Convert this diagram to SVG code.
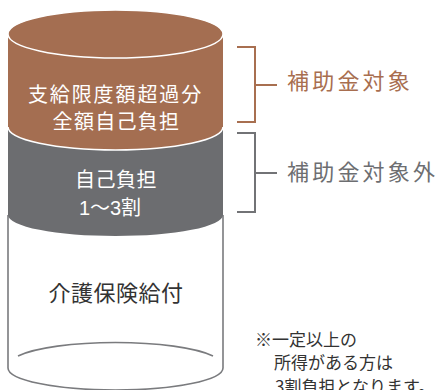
<svg xmlns="http://www.w3.org/2000/svg" width="439" height="390" viewBox="0 0 439 390">
<style>
text{font-family:"Noto Sans CJK JP","Noto Sans",sans-serif;}
.w{fill:#ffffff;font-size:20px;text-anchor:middle;}
.brown{fill:#a46e51;}
.gray{fill:#6c6d70;}
.line{fill:none;stroke:#7a7b7e;stroke-width:1.6;}
.bb{fill:none;stroke:#a86f50;stroke-width:2;}
.gb{fill:none;stroke:#727376;stroke-width:2;}
.note{fill:#333333;font-size:17px;}
</style>
<rect width="439" height="390" fill="#ffffff"/>
<g id="insurance">
  <path class="line" d="M8,215 L8,368 A107.5,22 0 0 0 223,368 L223,215"/>
  <path class="line" d="M18,356 A107,23 0 0 1 213,356"/>
  <text x="116" y="301" font-size="22" letter-spacing="0.5" text-anchor="middle" fill="#333333">介護保険給付</text>
</g>
<g id="copay">
  <path class="gray" d="M8,127 L8,215 A107.5,21 0 0 0 223,215 L223,127 Z"/>
  <text class="w" x="116" y="187" letter-spacing="0.5">自己負担</text>
  <text class="w" x="110" y="215" style="font-family:'Liberation Sans','Noto Sans CJK JP',sans-serif">1～3割</text>
</g>
<g id="excess">
  <path class="brown" d="M8,34 L8,127 A107.5,23 0 0 0 223,127 L223,34 Z"/>
  <path d="M8,127 A107.5,23 0 0 0 223,127" fill="none" stroke="#ffffff" stroke-width="1.6"/>
  <ellipse cx="115.5" cy="34" rx="107.5" ry="24" class="brown" stroke="#ffffff" stroke-width="1.5"/>
  <text class="w" x="115.5" y="102" letter-spacing="1.9">支給限度額超過分</text>
  <text class="w" x="116.5" y="129" letter-spacing="1.3">全額自己負担</text>
</g>
<g id="connectors">
  <path class="bb" d="M237,47 L255,47 L255,122 L237,122 M255,85 L277,85"/>
  <path class="gb" d="M237,133 L255,133 L255,212 L237,212 M255,173 L277,173"/>
</g>
<g id="label-subsidy">
  <text x="287" y="89" font-size="22" letter-spacing="3.2" fill="#a86e4f">補助金対象</text>
</g>
<g id="label-nonsubsidy">
  <text x="287" y="180" font-size="22" letter-spacing="3.2" fill="#6d6e71">補助金対象外</text>
</g>
<g id="note">
  <text class="note" x="255" y="346">※一定以上の</text>
  <text class="note" x="274" y="369">所得がある方は</text>
  <text class="note" x="275" y="393">3割負担となります。</text>
</g>
</svg>
